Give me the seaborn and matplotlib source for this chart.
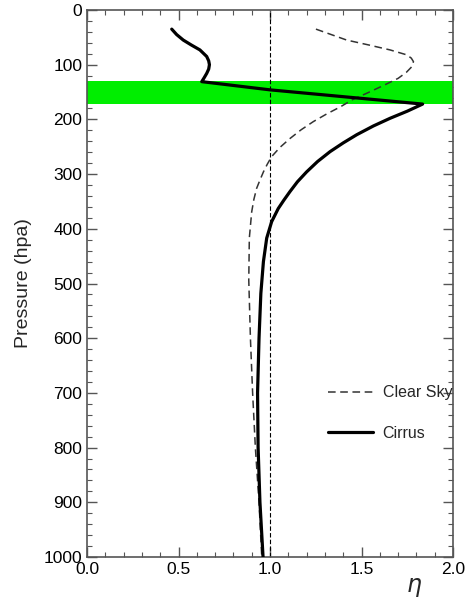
import matplotlib
matplotlib.use("Agg")
import matplotlib.pyplot as plt
from matplotlib.ticker import MultipleLocator
import pandas as pd
import seaborn as sns

# Vertical profiles of eta against pressure (hPa)
cirrus_p = [35, 45, 55, 64, 73, 85, 93, 100, 108, 116, 124, 131, 146, 172,
            185, 198, 212, 228, 243, 259, 277, 296, 314, 332, 348, 363, 387,
            417, 460, 518, 600, 700, 800, 900, 1000]
cirrus_eta = [0.463, 0.49, 0.526, 0.57, 0.617, 0.654, 0.665, 0.669, 0.665,
              0.654, 0.64, 0.627, 1.0, 1.834, 1.75, 1.656, 1.565, 1.474, 1.40,
              1.328, 1.26, 1.20, 1.15, 1.109, 1.075, 1.045, 1.009, 0.982,
              0.964, 0.950, 0.940, 0.932, 0.935, 0.945, 0.962]

clear_p = [35, 45, 55, 64, 73, 82, 88, 94.5, 104, 114, 125, 138, 152, 164,
           177, 190, 204, 219, 235, 251, 268, 282, 296, 311, 326, 346, 369,
           417, 494, 600, 700, 800, 900, 1000]
clear_eta = [1.251, 1.335, 1.419, 1.54, 1.656, 1.747, 1.772, 1.784, 1.774,
             1.745, 1.70, 1.62, 1.53, 1.45, 1.385, 1.31, 1.237, 1.17, 1.109,
             1.055, 1.009, 0.985, 0.964, 0.945, 0.927, 0.912, 0.90, 0.887,
             0.884, 0.893, 0.905, 0.92, 0.94, 0.955]

cloud_layer = (130, 172)   # cirrus layer, hPa
reference_eta = 1.0

df = pd.concat([
    pd.DataFrame({"p": clear_p, "eta": clear_eta, "case": "Clear Sky"}),
    pd.DataFrame({"p": cirrus_p, "eta": cirrus_eta, "case": "Cirrus"}),
])

sns.set_theme(style="white")
plt.rcParams["font.family"] = ["Liberation Sans", "DejaVu Sans"]

fig = plt.figure(figsize=(4.69, 6.05), dpi=100)
ax = fig.add_axes([0.1855, 0.0793, 0.7804, 0.9042])

ax.axhspan(*cloud_layer, color="#00ee00", lw=0, zorder=1)
ax.axvline(reference_eta, color="black", lw=0.8, ls=(0, (4, 2)), zorder=2)

sns.lineplot(data=df, x="eta", y="p", hue="case", style="case",
             hue_order=["Clear Sky", "Cirrus"], style_order=["Clear Sky", "Cirrus"],
             palette={"Clear Sky": "#333333", "Cirrus": "black"},
             dashes={"Clear Sky": (5, 3), "Cirrus": ""},
             size="case", sizes={"Clear Sky": 1.1, "Cirrus": 2.3},
             size_order=["Clear Sky", "Cirrus"],
             sort=False, orient="y", estimator=None, ax=ax, zorder=3)
for ln in ax.get_lines():
    ln.set_solid_joinstyle("round")
    ln.set_dash_joinstyle("round")

ax.set_xlim(0, 2)
ax.set_ylim(1000, 0)
ax.xaxis.set_major_locator(MultipleLocator(0.5))
ax.xaxis.set_minor_locator(MultipleLocator(0.1))
ax.yaxis.set_major_locator(MultipleLocator(100))
ax.yaxis.set_minor_locator(MultipleLocator(20))
ax.xaxis.set_major_formatter(plt.FuncFormatter(lambda v, _: f"{v:.1f}"))

ax.tick_params(which="both", direction="in", bottom=True, left=True,
               top=True, right=True, color="#555555", labelsize=12.5,
               labelcolor="black")
ax.tick_params(which="major", length=7, width=1)
ax.tick_params(which="minor", length=3.5, width=0.8)
for s in ax.spines.values():
    s.set_color("#555555")
    s.set_linewidth(1.2)

ax.set_ylabel("Pressure (hpa)", fontsize=14, labelpad=8)
ax.set_xlabel(r"$\eta$", fontsize=17)
ax.xaxis.set_label_coords(0.895, -0.035)

handles, labels = ax.get_legend_handles_labels()
ax.legend(handles, labels, loc="upper left", bbox_to_anchor=(0.62, 0.34),
          frameon=False, fontsize=11.5, handlelength=2.8, handletextpad=0.6,
          labelspacing=1.6)

fig.savefig("out.png", dpi=100)
